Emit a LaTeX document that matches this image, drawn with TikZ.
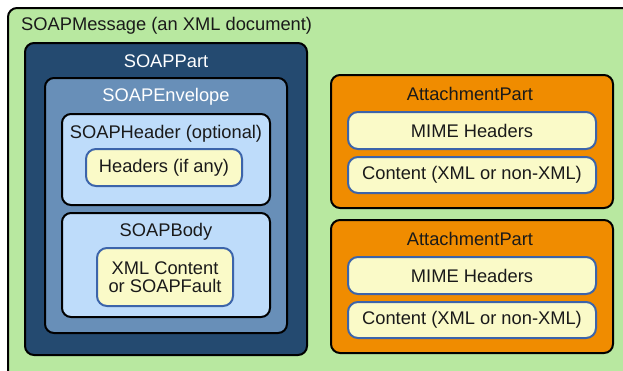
\documentclass[tikz,border=0pt]{standalone}
\usepackage{fontspec}
\setmainfont{Liberation Sans}
\definecolor{msggreen}{HTML}{B8E8A0}
\definecolor{partblue}{HTML}{244A70}
\definecolor{envblue}{HTML}{688FB8}
\definecolor{paleblue}{HTML}{BEDCFA}
\definecolor{cream}{HTML}{FAFAC8}
\definecolor{creamedge}{HTML}{3C64AA}
\definecolor{attorange}{HTML}{F08C00}
\definecolor{ink}{HTML}{1A1A1A}
\begin{document}
\begin{tikzpicture}[x=1pt,y=-1pt,
  every node/.style={font=\fontsize{18.3}{17.5}\selectfont, text=ink, inner sep=0pt},
  frame/.style={draw=black, line width=2pt, rounded corners=9pt},
  ybox/.style={draw=creamedge, line width=2pt, fill=cream, rounded corners=10pt, align=center},
  title/.style={anchor=base},
  wtitle/.style={anchor=base, text=white}]
\useasboundingbox (0,0) rectangle (623,370);
\clip (0,0) rectangle (623,370);

% outer message container (runs past the right and bottom edges)
\node[frame, fill=msggreen, minimum width=640pt, minimum height=380pt, anchor=north west] (msg) at (7,7) {};
\node[anchor=base west] (msgtitle) at (21,30) {SOAPMessage (an XML document)};

% SOAP part
\node[frame, fill=partblue, minimum width=282pt, minimum height=312pt] (part) at (166,199) {};
\node[wtitle] (parttitle) at (166,67) {SOAPPart};

\node[frame, fill=envblue, minimum width=242pt, minimum height=255pt] (env) at (166,205.5) {};
\node[wtitle] (envtitle) at (166,101) {SOAPEnvelope};

\node[frame, fill=paleblue, minimum width=208pt, minimum height=91pt] (hdr) at (166,159.5) {};
\node[title] (hdrtitle) at (166,138) {SOAPHeader (optional)};
\node[ybox, minimum width=156pt, minimum height=37pt] (hdrs) at (164,167.5) {Headers (if any)};

\node[frame, fill=paleblue, minimum width=208pt, minimum height=104pt] (body) at (166,265) {};
\node[title] (bodytitle) at (166,236) {SOAPBody};
\node[ybox, minimum width=136pt, minimum height=58pt] (xml) at (165,277) {XML Content\\or SOAPFault};

% attachment parts
\node[frame, fill=attorange, minimum width=282pt, minimum height=133pt] (att1) at (472,141.5) {};
\node[title] (att1title) at (470,100) {AttachmentPart};
\node[ybox, minimum width=248pt, minimum height=37pt] (mime1) at (472,130.5) {MIME Headers};
\node[ybox, minimum width=248pt, minimum height=36pt] (cont1) at (472,175) {Content (XML or non-XML)};

\node[frame, fill=attorange, minimum width=282pt, minimum height=133pt] (att2) at (472,286.5) {};
\node[title] (att2title) at (470,245) {AttachmentPart};
\node[ybox, minimum width=248pt, minimum height=37pt] (mime2) at (472,275.5) {MIME Headers};
\node[ybox, minimum width=248pt, minimum height=36pt] (cont2) at (472,320) {Content (XML or non-XML)};
\end{tikzpicture}
\end{document}
